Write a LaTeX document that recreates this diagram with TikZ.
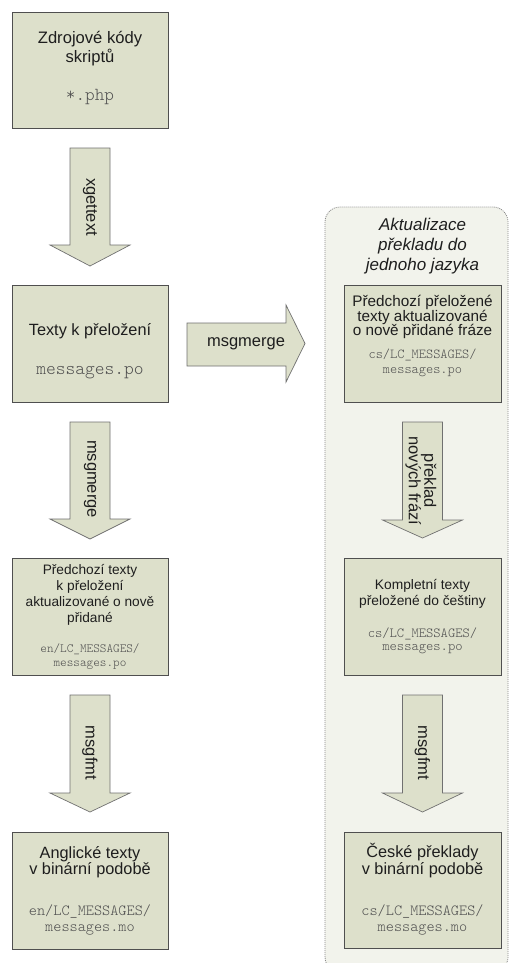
\documentclass[tikz,border=0pt]{standalone}
\usepackage{fontspec}
\setmainfont{Liberation Sans}
\definecolor{boxfill}{HTML}{DDE0CB}
\definecolor{boxline}{HTML}{4F4F4F}
\definecolor{arrowline}{HTML}{707070}
\definecolor{contfill}{HTML}{F2F3EC}
\definecolor{contline}{HTML}{8A8A8A}
\definecolor{textcol}{HTML}{1E1E1E}
\definecolor{monocol}{HTML}{505050}
\newcommand\fsz[1]{\fontsize{#1}{#1}\selectfont}
\newcommand\mfont[1]{\ttfamily\fontseries{l}\selectfont\fsz{#1}}
\tikzset{
  box/.style={draw=boxline, fill=boxfill, line width=0.9pt, inner sep=0pt, minimum width=156pt},
  blockarrow/.style={draw=arrowline, fill=boxfill, line width=0.7pt, line join=miter},
  container/.style={draw=contline, fill=contfill, line width=0.8pt, dash pattern=on 1pt off 1pt, rounded corners=15pt},
  txt/.style={inner sep=0pt, anchor=mid, text=textcol},
  mono/.style={inner sep=0pt, anchor=mid, text=monocol},
  lbl/.style={inner sep=0pt, text=textcol, align=center},
}
\newcommand\varrow[4]{\draw[blockarrow] (#1-20,#2) -- (#1+20,#2) -- (#1+20,#3) -- (#1+40,#3) -- (#1,#4) -- (#1-40,#3) -- (#1-20,#3) -- cycle;}
\begin{document}
\begin{tikzpicture}[x=1pt,y=-1pt]
\useasboundingbox (0,0) rectangle (509,963);
\fill[white] (0,0) rectangle (509,963);

% container
\draw[container] (325,207) rectangle (508,972);
\node[txt, font=\fsz{17}\itshape] (ti1) at (422.5,228) {Aktualizace};
\node[txt, font=\fsz{17}\itshape] (ti2) at (422.5,248) {překladu do};
\node[txt, font=\fsz{17}\itshape] (ti3) at (422.5,268) {jednoho jazyka};

% left boxes
\node[box, minimum height=116pt] (b1) at (90,70) {};
\node[txt, font=\fsz{16.6}] (b1a) at (90,41) {Zdrojové kódy};
\node[txt, font=\fsz{16.6}] (b1b) at (90,60) {skriptů};
\node[mono, font=\mfont{18.3}] (b1c) at (90,98) {*.php};

\node[box, minimum height=117pt] (b2) at (90,343.5) {};
\node[txt, font=\fsz{16.3}] (b2a) at (90,333) {Texty k přeložení};
\node[mono, font=\mfont{18.6}] (b2b) at (90,372) {messages.po};

\node[box, minimum height=117pt] (b3) at (90,616.5) {};
\node[txt, font=\fsz{13.7}] (b3a) at (90,572) {Předchozí texty};
\node[txt, font=\fsz{13.7}] (b3b) at (90,588) {k přeložení};
\node[txt, font=\fsz{13.7}] (b3c) at (90,604) {aktualizované o nově};
\node[txt, font=\fsz{13.7}] (b3d) at (90,620) {přidané};
\node[mono, font=\mfont{12.6}] (b3e) at (90,650) {en/LC\_MESSAGES/};
\node[mono, font=\mfont{12.6}] (b3f) at (90,664) {messages.po};

\node[box, minimum height=117pt] (b4) at (90,890.5) {};
\node[txt, font=\fsz{16.3}] (b4a) at (90,856) {Anglické texty};
\node[txt, font=\fsz{16.3}] (b4b) at (90,872) {v binární podobě};
\node[mono, font=\mfont{15.5}] (b4c) at (90,913) {en/LC\_MESSAGES/};
\node[mono, font=\mfont{15.5}] (b4d) at (90,929) {messages.mo};

% right boxes
\node[box, minimum width=157pt, minimum height=117pt] (r1) at (422.5,343.5) {};
\node[txt, font=\fsz{15.3}] (r1a) at (422.5,304) {Předchozí přeložené};
\node[txt, font=\fsz{15.3}] (r1b) at (422.5,318.5) {texty aktualizované};
\node[txt, font=\fsz{15.3}] (r1c) at (422.5,333) {o nově přidané fráze};
\node[mono, font=\mfont{13.7}] (r1d) at (422.5,356) {cs/LC\_MESSAGES/};
\node[mono, font=\mfont{13.7}] (r1e) at (422.5,371) {messages.po};

\node[box, minimum width=157pt, minimum height=117pt] (r2) at (422.5,616.5) {};
\node[txt, font=\fsz{13.8}] (r2a) at (422.5,587) {Kompletní texty};
\node[txt, font=\fsz{13.8}] (r2b) at (422.5,603) {přeložené do češtiny};
\node[mono, font=\mfont{13.9}] (r2c) at (422.5,635) {cs/LC\_MESSAGES/};
\node[mono, font=\mfont{13.9}] (r2d) at (422.5,648) {messages.po};

\node[box, minimum width=157pt, minimum height=116pt] (r3) at (422.5,890) {};
\node[txt, font=\fsz{16.3}] (r3a) at (422.5,855) {České překlady};
\node[txt, font=\fsz{16.3}] (r3b) at (422.5,872) {v binární podobě};
\node[mono, font=\mfont{15.5}] (r3c) at (422.5,913) {cs/LC\_MESSAGES/};
\node[mono, font=\mfont{15.5}] (r3d) at (422.5,929) {messages.mo};

% block arrows
\varrow{90}{148}{245}{266}
\node[lbl, rotate=-90, font=\fsz{16.5}] (l1) at (90,207) {xgettext};
\varrow{90}{422}{519}{539}
\node[lbl, rotate=-90, font=\fsz{16.5}] (l2) at (90,479) {msgmerge};
\varrow{90}{695}{793}{812}
\node[lbl, rotate=-90, font=\fsz{16.5}] (l3) at (90,753) {msgfmt};
\varrow{422.5}{422}{520}{538}
\node[lbl, rotate=-90, font=\fsz{16.5}, align=center] (l4) at (421,481) {překlad\\[-1pt]nových frází};
\varrow{422.5}{695}{793}{812}
\node[lbl, rotate=-90, font=\fsz{16.5}] (l5) at (422.5,753) {msgfmt};

\draw[blockarrow] (187,323) -- (286,323) -- (286,305) -- (305,343.5) -- (286,382) -- (286,366) -- (187,366) -- cycle;
\node[lbl, font=\fsz{16.5}] (l6) at (246,343.5) {msgmerge};
\end{tikzpicture}
\end{document}
